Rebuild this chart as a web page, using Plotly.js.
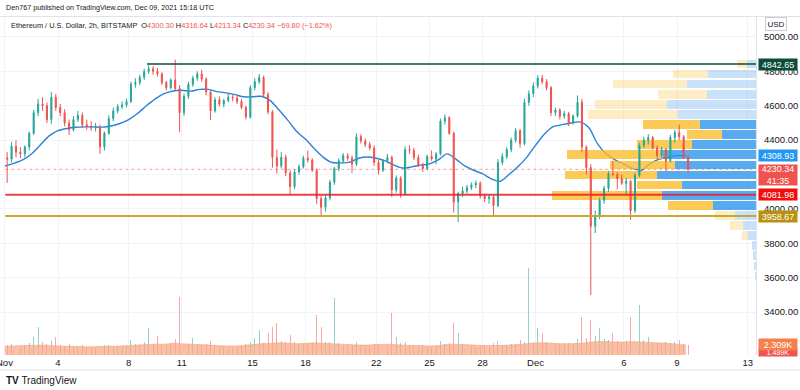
<!DOCTYPE html>
<html><head><meta charset="utf-8">
<script src="https://cdn.plot.ly/plotly-3.0.1.min.js"></script>
<style>html,body{margin:0;padding:0;background:#fff}#c{width:800px;height:390px}</style>
</head><body><div id="c"></div>
<script>
// ---- Candles (6h bars, Nov 1 00:00 UTC onward) ----
const barStart = Date.UTC(2021, 10, 1, 3); // bar centres
const opens = [4297,4290,4365,4330,4320,4360,4440,4560,4610,4600,
4520,4650,4590,4560,4500,4460,4520,4545,4490,4480,
4470,4475,4360,4440,4525,4570,4595,4605,4625,4725,
4735,4765,4800,4815,4800,4785,4735,4705,4750,4700,
4560,4655,4725,4760,4785,4755,4680,4570,4635,4610,
4630,4650,4645,4625,4590,4535,4705,4740,4765,4665,
4565,4300,4250,4300,4210,4130,4215,4245,4295,4285,
4225,4060,4010,4065,4155,4235,4280,4310,4295,4260,
4420,4395,4375,4355,4270,4225,4280,4300,4110,4180,
4090,4345,4340,4300,4255,4235,4305,4290,4320,4510,
4530,4440,4040,4090,4105,4125,4140,4150,4075,4060,
4070,4020,4270,4305,4345,4400,4455,4380,4620,4670,
4715,4760,4740,4705,4560,4575,4540,4555,4500,4540,
4620,4360,4240,3900,3960,4050,4120,4205,4200,4175,
4150,4160,3990,4195,4370,4400,4415,4355,4310,4345,
4280,4415,4445,4420,4300.30];
const highs = [4330,4390,4400,4360,4370,4450,4575,4640,4650,4620,
4680,4670,4610,4580,4520,4540,4570,4560,4520,4510,
4500,4490,4450,4545,4590,4610,4625,4640,4740,4760,
4780,4815,4835,4830,4820,4795,4745,4760,4868,4720,
4670,4740,4775,4800,4810,4765,4690,4650,4655,4640,
4670,4665,4660,4640,4600,4720,4760,4785,4775,4680,
4575,4345,4330,4315,4225,4230,4260,4310,4340,4295,
4235,4080,4080,4170,4245,4295,4325,4325,4310,4440,
4435,4410,4390,4370,4285,4290,4320,4310,4195,4190,
4365,4370,4355,4315,4270,4315,4340,4330,4525,4550,
4540,4450,4100,4130,4140,4155,4165,4160,4090,4085,
4080,4290,4325,4360,4415,4470,4465,4640,4690,4735,
4778,4780,4755,4715,4590,4585,4570,4565,4550,4660,
4640,4370,4260,3990,4065,4135,4220,4280,4215,4200,
4180,4170,4210,4385,4420,4435,4425,4370,4360,4355,
4430,4460,4490,4430,4316.64];
const lows = [4151,4270,4300,4295,4300,4340,4430,4540,4570,4500,
4495,4570,4540,4480,4430,4450,4505,4470,4460,4455,
4450,4320,4340,4430,4510,4555,4580,4590,4615,4705,
4720,4750,4785,4780,4770,4720,4690,4695,4690,4448,
4540,4640,4710,4745,4740,4660,4517,4560,4595,4590,
4620,4625,4610,4580,4520,4525,4690,4725,4650,4550,
4240,4205,4235,4190,4081,4115,4200,4235,4270,4215,
4030,3965,3985,4050,4140,4220,4265,4280,4210,4250,
4380,4360,4340,4250,4200,4215,4265,4070,4095,4065,
4080,4320,4285,4245,4215,4225,4280,4260,4310,4490,
4430,3980,3925,4070,4090,4110,4120,4060,4040,4030,
3960,4010,4255,4290,4330,4385,4355,4370,4600,4650,
4700,4725,4690,4540,4540,4520,4525,4480,4490,4530,
4330,4200,3500,3860,3940,4030,4100,4190,4115,4140,
4085,3936,3975,4185,4355,4375,4345,4290,4295,4220,
4270,4385,4400,4290,4213.34];
const closes = [4290,4365,4330,4320,4360,4440,4560,4610,4600,4520,
4650,4590,4560,4500,4460,4520,4545,4490,4480,4470,
4475,4360,4440,4525,4570,4595,4605,4625,4725,4735,
4765,4800,4815,4800,4785,4735,4705,4750,4700,4560,
4655,4725,4760,4785,4755,4680,4570,4635,4610,4630,
4650,4645,4625,4590,4535,4705,4740,4765,4665,4565,
4300,4250,4300,4210,4130,4215,4245,4295,4285,4225,
4060,4010,4065,4155,4235,4280,4310,4295,4260,4420,
4395,4375,4355,4270,4225,4280,4300,4110,4180,4090,
4345,4340,4300,4255,4235,4305,4290,4320,4510,4530,
4440,4040,4090,4105,4125,4140,4150,4075,4060,4070,
4020,4270,4305,4345,4400,4455,4380,4620,4670,4715,
4760,4740,4705,4560,4575,4540,4555,4500,4540,4620,
4360,4240,3900,3960,4050,4120,4205,4200,4175,4150,
4160,3990,4195,4370,4400,4415,4355,4310,4345,4280,
4415,4445,4420,4300,4230.34];
// volume per bar (K)
const volumes = [2.2,2.5,2.0,1.8,2.3,2.8,4.2,6.5,3.0,2.6,
3.2,4.2,2.4,2.1,2.6,2.0,1.9,2.2,1.8,1.7,
1.9,3.0,2.4,2.2,2.0,1.8,1.9,2.1,3.4,2.6,
2.4,2.9,6.2,2.5,4.4,2.3,2.1,2.6,3.6,13.4,
3.1,2.5,3.9,2.4,2.2,2.6,3.3,2.4,2.0,1.9,
1.8,1.7,2.0,2.1,2.6,2.9,3.9,5.8,2.8,5.1,
6.5,7.4,3.2,2.9,4.6,3.0,2.6,2.4,2.5,2.8,
9.2,6.5,3.1,2.9,13.2,2.7,2.3,2.2,2.4,3.1,
2.4,2.1,2.0,2.6,2.3,2.1,2.2,9.7,4.2,2.8,
3.0,2.4,2.1,2.0,2.2,2.0,1.9,2.1,3.2,2.6,
2.7,7.4,5.1,2.6,2.2,2.0,1.9,2.1,2.3,2.0,
2.8,3.3,2.4,2.3,2.5,2.6,3.5,3.0,20.0,2.8,
6.2,5.1,3.0,3.4,2.6,2.5,2.8,2.7,2.4,3.6,
8.8,4.0,8.0,4.5,6.2,3.6,3.4,5.1,3.2,3.0,
3.3,8.8,3.8,11.5,3.4,4.2,3.0,2.8,2.6,3.1,
2.7,2.9,3.4,2.6,2.3];
// ---- Moving average and volume MA (12h samples from Nov 1 00:00) ----
const maStart = Date.UTC(2021, 10, 1, 0);
const maValues = [4250,4265,4285,4320,4372,4425,4455,4468,4475,4477,
4477,4476,4482,4497,4520,4555,4600,4640,4670,4686,
4690,4685,4695,4695,4682,4675,4665,4652,4652,4655,
4630,4575,4515,4450,4405,4350,4300,4270,4268,4272,
4295,4302,4295,4280,4255,4238,4245,4255,4262,4285,
4320,4290,4250,4225,4205,4175,4160,4200,4245,4300,
4370,4435,4478,4490,4500,4506,4475,4380,4320,4285,
4260,4235,4225,4265,4290,4300,4310,4308.93];
const volMA = [2.0,2.1,2.2,2.2,2.3,2.2,2.1,2.0,2.0,1.9,
1.9,2.0,2.0,2.1,2.2,2.3,2.4,2.5,2.5,2.7,
2.6,2.5,2.4,2.3,2.2,2.1,2.1,2.2,2.4,2.6,
2.7,2.8,2.7,2.6,2.7,2.8,2.7,2.6,2.5,2.4,
2.3,2.3,2.4,2.5,2.4,2.3,2.2,2.2,2.1,2.2,
2.4,2.5,2.4,2.3,2.2,2.2,2.2,2.3,2.4,2.6,
2.8,2.8,2.7,2.6,2.6,2.7,2.9,3.1,3.1,3.0,
3.0,3.1,3.0,2.9,2.8,2.7,2.5,2.309];
// ---- Visible range volume profile ----
const profilePrices = [4843,4784,4726,4667,4608,4550,4491,4432,4374,4315,4256,4197,4139,4080,4021,3962,3904,3845,3786,3728,3669,3610];
const profileUp   = [9,48,69,49,89,78,56,34,64,93,81,99,74,94,43,21,13,8,4,3,2,1];
const profileDown = [10,35,74,49,72,90,57,35,55,96,65,92,45,110,45,20,13,6,0,0,0,0];
const profileInValueArea = [0,0,0,0,0,0,1,1,1,1,1,1,1,1,1,0,0,0,0,0,0,0];
// ---- Levels ----
const levelATH = 4842.65, levelRed = 4081.98, levelGold = 3958.67, lastPrice = 4230.34, maLast = 4308.93, volLast = 2.309, volPrev = 1.489;
const tickDates = ['2021-11-01','2021-11-04','2021-11-08','2021-11-11','2021-11-15','2021-11-18','2021-11-22','2021-11-25','2021-11-28','2021-12-01','2021-12-06','2021-12-09','2021-12-13'];
const tickLabels = ['Nov','4','8','11','15','18','22','25','28','Dec','6','9','13'];
const priceTicks = [3400,3600,3800,4000,4200,4400,4600,4800,5000];
const priceTickLabels = ['3400.00','3600.00','3800.00','4000.00','','4400.00','4600.00','4800.00','5000.00'];

function fmt(ms){const d=new Date(ms);const p=n=>String(n).padStart(2,'0');
 return d.getUTCFullYear()+'-'+p(d.getUTCMonth()+1)+'-'+p(d.getUTCDate())+' '+p(d.getUTCHours())+':'+p(d.getUTCMinutes());}
const barX = closes.map((_,i)=>fmt(barStart+i*6*3600e3));
const maX = maValues.map((_,i)=>fmt(maStart+i*12*3600e3));
const xRange = ['2021-10-31 17:18','2021-12-13 11:11'];

const UP='#26a69a', DN='#ef5350';
const traces = [];
traces.push({type:'scatter',mode:'lines',x:maX,y:volMA,xaxis:'x',yaxis:'y2',fill:'tozeroy',
  line:{color:'rgba(247,150,110,0.9)',width:0.5,shape:'spline'},fillcolor:'rgba(248,170,135,0.75)',hoverinfo:'skip'});
traces.push({type:'bar',x:barX,y:volumes,xaxis:'x',yaxis:'y2',width:1.3*3600e3,
  marker:{color:closes.map((c,i)=>c>=opens[i]?'rgba(38,166,154,0.5)':'rgba(239,83,80,0.5)'),line:{width:0}},hoverinfo:'skip'});
traces.push({type:'scatter',mode:'lines',x:maX,y:maValues,xaxis:'x',yaxis:'y',
  line:{color:'#2a82d8',width:1.4,shape:'spline',smoothing:0.8},hoverinfo:'skip'});
traces.push({type:'bar',orientation:'h',y:profilePrices,x:profileUp,xaxis:'x2',yaxis:'y',width:50,
  marker:{color:profileInValueArea.map(v=>v?'rgba(40,148,236,0.78)':'rgba(80,160,235,0.30)'),line:{width:0}},hoverinfo:'skip'});
traces.push({type:'bar',orientation:'h',y:profilePrices,x:profileDown,xaxis:'x2',yaxis:'y',width:50,
  marker:{color:profileInValueArea.map(v=>v?'rgba(251,188,40,0.78)':'rgba(251,200,90,0.35)'),line:{width:0}},hoverinfo:'skip'});
traces.push({type:'candlestick',x:barX,open:opens,high:highs,low:lows,close:closes,xaxis:'x3',yaxis:'y',
  increasing:{line:{color:UP,width:1},fillcolor:UP},decreasing:{line:{color:DN,width:1},fillcolor:DN},
  whiskerwidth:0,hoverinfo:'skip'});

const pyPaper = py => 1-(py-17)/338;
const rx = 1+2/756;
function lbl(y,text,bg,yref,extra){return Object.assign({xref:'paper',yref:yref||'y',x:rx,y:y,xanchor:'left',yanchor:'middle',
 text:text,showarrow:false,bgcolor:bg,font:{color:'#fff',size:9},borderpad:0,width:38,height:11,align:'center'},extra||{});}

const layout = {
 width:800,height:390,margin:{l:0,r:44,t:17,b:35},
 paper_bgcolor:'#ffffff',plot_bgcolor:'#ffffff',showlegend:false,
 barmode:'stack',bargap:0,boxgap:0.65,
 font:{family:'Liberation Sans, Arial, sans-serif',size:9.5,color:'#131722'},
 xaxis:{type:'date',range:xRange,tickvals:tickDates,ticktext:tickLabels,showgrid:true,gridcolor:'#f0f3fa',
   ticks:'',zeroline:false,showline:false,rangeslider:{visible:false},tickfont:{size:9.5,color:'#131722'},fixedrange:true},
 xaxis2:{overlaying:'x',anchor:'y',range:[756,0],visible:false,fixedrange:true},
 xaxis3:{overlaying:'x',anchor:'y',type:'date',range:xRange,visible:false,rangeslider:{visible:false},fixedrange:true},
 yaxis:{side:'right',range:[3151,5116],tickvals:priceTicks,ticktext:priceTickLabels,gridcolor:'#f0f3fa',
   showline:true,linecolor:'#e0e3eb',ticks:'',zeroline:false,tickfont:{size:9.5,color:'#131722'},ticklabelstandoff:5,fixedrange:true},
 yaxis2:{overlaying:'y',range:[0,78],visible:false,fixedrange:true},
 shapes:[
  {type:'line',xref:'x',yref:'y',x0:'2021-11-09 00:45',x1:xRange[1],y0:levelATH,y1:levelATH,line:{color:'#0b4d3c',width:1.5}},
  {type:'line',xref:'paper',yref:'y',x0:0.007,x1:1,y0:lastPrice,y1:lastPrice,line:{color:'rgba(239,83,80,0.55)',width:1,dash:'dot'}},
  {type:'line',xref:'paper',yref:'y',x0:0.007,x1:1,y0:levelRed,y1:levelRed,line:{color:'rgba(230,30,40,0.85)',width:2}},
  {type:'line',xref:'paper',yref:'y',x0:0.007,x1:1,y0:levelGold,y1:levelGold,line:{color:'#c9a832',width:2}},
  {type:'line',xref:'paper',yref:'paper',x0:0,x1:800/756,y0:pyPaper(370),y1:pyPaper(370),line:{color:'#e0e3eb',width:1}},
  {type:'line',xref:'paper',yref:'paper',x0:0,x1:800/756,y0:pyPaper(16.5),y1:pyPaper(16.5),line:{color:'#e0e3eb',width:1}}
 ],
 annotations:[
  {xref:'paper',yref:'paper',x:4/756,y:pyPaper(8),xanchor:'left',yanchor:'middle',showarrow:false,
   text:'Den767 published on TradingView.com, Dec 09, 2021 15:18 UTC',font:{size:7.2,color:'#131722'}},
  {xref:'paper',yref:'paper',x:9/756,y:pyPaper(25),xanchor:'left',yanchor:'middle',showarrow:false,
   text:'Ethereum / U.S. Dollar, 2h, BITSTAMP  O<span style="color:#ef5350">4300.30</span> H<span style="color:#ef5350">4316.64</span> L<span style="color:#ef5350">4213.34</span> C<span style="color:#ef5350">4230.34</span> <span style="color:#ef5350">−69.80 (−1.62%)</span>',
   font:{size:7.4,color:'#131722'}},
  {xref:'paper',yref:'paper',x:(776)/756,y:pyPaper(24),xanchor:'center',yanchor:'middle',showarrow:false,text:'USD',
   font:{size:8,color:'#131722'},bordercolor:'#c8cbd3',borderwidth:1,borderpad:1.5},
  {xref:'paper',yref:'paper',x:4.94/756,y:pyPaper(362),xanchor:'center',yanchor:'middle',showarrow:false,text:'Nov',
   font:{size:9.5,color:'#131722'}},
  lbl(levelATH,'4842.65','#0b4d3c'),
  lbl(maLast,'4308.93','#2196f3'),
  lbl(lastPrice,'4230.34<br>41:35','#ef5350','y',{yanchor:'top',y:lastPrice+33,height:20}),
  lbl(levelRed,'4081.98','#f20d0d'),
  lbl(levelGold,'3958.67','#b8920f'),
  lbl(0.55,volPrev.toFixed(3)+'K','#ef5350','y2',{height:7,font:{color:'#fff',size:7}}),
  lbl(volLast,'2.309K','#f5804c','y2'),
  {xref:'paper',yref:'paper',x:4/756,y:pyPaper(380),xanchor:'left',yanchor:'middle',showarrow:false,
   text:'<b>TV</b> TradingView',font:{size:10,color:'#131722'}}
 ]
};
Plotly.newPlot('c',traces,layout,{staticPlot:true,displayModeBar:false});
</script></body></html>
